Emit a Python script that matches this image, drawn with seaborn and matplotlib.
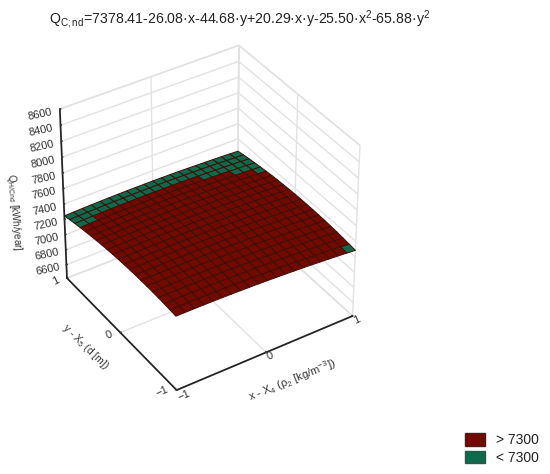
import numpy as np
import matplotlib
matplotlib.use("Agg")
import matplotlib.pyplot as plt
import seaborn as sns
from matplotlib.patches import Patch

# ==========================
# DATA
# ==========================

x_vals = [-1.0, -0.9, -0.8, -0.7, -0.6, -0.5, -0.4, -0.3, -0.2, -0.1, 0.0,
          0.1, 0.2, 0.3, 0.4, 0.5, 0.6, 0.7, 0.8, 0.9, 1.0]
y_vals = [-1.0, -0.9, -0.8, -0.7, -0.6, -0.5, -0.4, -0.3, -0.2, -0.1, 0.0,
          0.1, 0.2, 0.3, 0.4, 0.5, 0.6, 0.7, 0.8, 0.9, 1.0]

# one row per y value, one column per x value
q_vals = [
    [7378, 7378, 7378, 7377, 7376, 7374, 7372, 7369, 7365, 7362, 7357, 7352, 7347, 7341, 7335, 7328, 7320, 7312, 7304, 7295, 7285],
    [7384, 7385, 7384, 7384, 7383, 7381, 7379, 7376, 7373, 7369, 7365, 7361, 7355, 7350, 7343, 7337, 7329, 7322, 7313, 7305, 7295],
    [7389, 7389, 7390, 7389, 7388, 7387, 7385, 7382, 7379, 7376, 7372, 7367, 7363, 7357, 7351, 7344, 7337, 7330, 7322, 7313, 7304],
    [7392, 7393, 7393, 7393, 7392, 7391, 7389, 7387, 7384, 7381, 7377, 7373, 7368, 7363, 7357, 7351, 7344, 7337, 7329, 7320, 7312],
    [7394, 7395, 7396, 7396, 7395, 7394, 7393, 7391, 7388, 7385, 7381, 7377, 7373, 7368, 7362, 7356, 7349, 7342, 7335, 7326, 7318],
    [7395, 7396, 7397, 7397, 7397, 7396, 7395, 7393, 7390, 7388, 7384, 7380, 7376, 7371, 7366, 7360, 7353, 7346, 7339, 7331, 7323],
    [7394, 7396, 7397, 7397, 7397, 7396, 7395, 7394, 7392, 7389, 7386, 7382, 7378, 7373, 7368, 7362, 7356, 7349, 7342, 7334, 7326],
    [7393, 7394, 7395, 7396, 7396, 7396, 7395, 7393, 7391, 7389, 7386, 7382, 7378, 7374, 7369, 7363, 7357, 7351, 7344, 7336, 7328],
    [7389, 7391, 7393, 7393, 7394, 7393, 7393, 7391, 7390, 7387, 7385, 7381, 7378, 7373, 7369, 7363, 7357, 7351, 7344, 7337, 7329],
    [7385, 7387, 7388, 7389, 7390, 7390, 7389, 7388, 7387, 7385, 7382, 7379, 7376, 7371, 7367, 7362, 7356, 7350, 7343, 7336, 7329],
    [7379, 7381, 7383, 7384, 7385, 7385, 7385, 7384, 7383, 7381, 7378, 7376, 7372, 7368, 7364, 7359, 7354, 7348, 7341, 7334, 7327],
    [7372, 7374, 7376, 7378, 7379, 7379, 7379, 7378, 7377, 7375, 7373, 7371, 7367, 7364, 7360, 7355, 7350, 7344, 7338, 7331, 7324],
    [7363, 7366, 7368, 7370, 7371, 7372, 7372, 7371, 7370, 7369, 7367, 7364, 7361, 7358, 7354, 7349, 7344, 7339, 7333, 7326, 7319],
    [7354, 7356, 7359, 7361, 7362, 7363, 7363, 7363, 7362, 7361, 7359, 7357, 7354, 7351, 7347, 7343, 7338, 7333, 7327, 7320, 7314],
    [7342, 7345, 7348, 7350, 7352, 7353, 7353, 7353, 7353, 7352, 7350, 7348, 7345, 7342, 7339, 7335, 7330, 7325, 7319, 7313, 7307],
    [7330, 7333, 7336, 7338, 7340, 7341, 7342, 7342, 7342, 7341, 7340, 7338, 7335, 7333, 7329, 7325, 7321, 7316, 7310, 7305, 7298],
    [7316, 7320, 7323, 7325, 7327, 7329, 7329, 7330, 7330, 7329, 7328, 7326, 7324, 7321, 7318, 7314, 7310, 7306, 7300, 7295, 7288],
    [7301, 7305, 7308, 7311, 7313, 7314, 7316, 7316, 7316, 7316, 7315, 7313, 7312, 7309, 7306, 7302, 7299, 7294, 7289, 7284, 7277],
    [7285, 7289, 7292, 7295, 7297, 7299, 7300, 7301, 7301, 7301, 7300, 7299, 7298, 7295, 7292, 7289, 7285, 7281, 7276, 7271, 7265],
    [7267, 7271, 7275, 7278, 7280, 7282, 7284, 7285, 7285, 7285, 7285, 7284, 7282, 7280, 7278, 7274, 7271, 7267, 7262, 7257, 7252],
    [7248, 7252, 7256, 7259, 7262, 7264, 7266, 7267, 7268, 7268, 7268, 7267, 7266, 7264, 7261, 7258, 7255, 7251, 7247, 7242, 7237],
]

threshold = 7300
x_ticks = [-1, 0, 1]
y_ticks = [-1, 0, 1]
z_ticks = [6600, 6800, 7000, 7200, 7400, 7600, 7800, 8000, 8200, 8400, 8600]
legend_labels = ["> 7300", "< 7300"]

red = "#730a02"
green = "#0e6a4c"

# ==========================
# STYLE
# ==========================

sns.set_theme(style="white")
plt.rcParams["font.family"] = ["Liberation Sans", "DejaVu Sans"]
plt.rcParams["mathtext.default"] = "regular"
plt.rcParams["grid.color"] = "#e2e2e2"
plt.rcParams["grid.linewidth"] = 1.0

# ==========================
# SURFACE
# ==========================

X, Y = np.meshgrid(x_vals, y_vals)
Z = np.array(q_vals, dtype=float)

cell_mean = (Z[:-1, :-1] + Z[1:, :-1] + Z[:-1, 1:] + Z[1:, 1:]) / 4
facecolors = np.where(cell_mean[..., None] > threshold,
                      matplotlib.colors.to_rgba_array(red),
                      matplotlib.colors.to_rgba_array(green))

fig = plt.figure(figsize=(5.5, 4.74), dpi=100)
ax = fig.add_axes([0.04, 0.1115, 0.66, 0.853], projection="3d")
ax.set_proj_type("persp", focal_length=1.3)
ax.view_init(elev=36.7, azim=-123)
ax.set_box_aspect((1, 1, 1.0), zoom=0.98)

ax.plot_surface(X, Y, Z, facecolors=facecolors, rstride=1, cstride=1,
                shade=False, edgecolor="#3c1008", linewidth=0.7)

ax.set_xlim(-1, 1, view_margin=0)
ax.set_ylim(-1, 1, view_margin=0)
ax.set_zlim(6420, 8600, view_margin=0)
ax.set_xticks(x_ticks)
ax.set_yticks(y_ticks)
ax.set_zticks(z_ticks)

for axis in [ax.xaxis, ax.yaxis, ax.zaxis]:
    axis.set_pane_color((1, 1, 1, 1))
    axis.pane.set_edgecolor("#dcdcdc")
    axis.line.set_color("#222222")
    axis._axinfo["tick"]["outward_factor"] = 0.05
    axis._axinfo["tick"]["inward_factor"] = 0.0
ax.grid(True)
ax.tick_params(axis="x", labelsize=8, colors="#333333", pad=-9, labelrotation=25)
ax.tick_params(axis="y", labelsize=8, colors="#333333", pad=-3, labelrotation=25)
ax.tick_params(axis="z", labelsize=8, colors="#333333", pad=1, labelrotation=12)

for lab in ax.xaxis.get_ticklabels():
    lab.set_ha("left")
for lab in ax.yaxis.get_ticklabels():
    lab.set_ha("right")
    lab.set_va("bottom")
for lab in ax.zaxis.get_ticklabels():
    lab.set_va("top")

# ==========================
# TEXT
# ==========================

fig.text(0.436, 0.958,
         "Q$_{C;nd}$=7378.41-26.08·x-44.68·y+20.29·x·y-25.50·x$^{2}$-65.88·y$^{2}$",
         ha="center", va="center", fontsize=10.15, color="#222222")
fig.text(0.027, 0.553, "Q$_{H/Cnd}$ [kWh/year]", rotation=-85, ha="center", va="center",
         fontsize=7, color="#333333")
fig.text(0.155, 0.268, "y - X$_{5}$ (d [m])", rotation=-44, ha="center", va="center",
         fontsize=7.5, color="#333333")
fig.text(0.531, 0.198, "x - X$_{4}$ (ρ$_{2}$ [kg/m$^{-3}$])", rotation=22, ha="center", va="center",
         fontsize=8, color="#333333")

handles = [Patch(facecolor=red, edgecolor="#4a2015"), Patch(facecolor=green, edgecolor="#2a5a48")]
fig.legend(handles, legend_labels, loc="lower right", bbox_to_anchor=(1.003, -0.007), frameon=False,
           fontsize=10, handlelength=1.45, handleheight=1.0, labelspacing=0.25,
           labelcolor="#222222")

fig.savefig("out.png", dpi=100)
